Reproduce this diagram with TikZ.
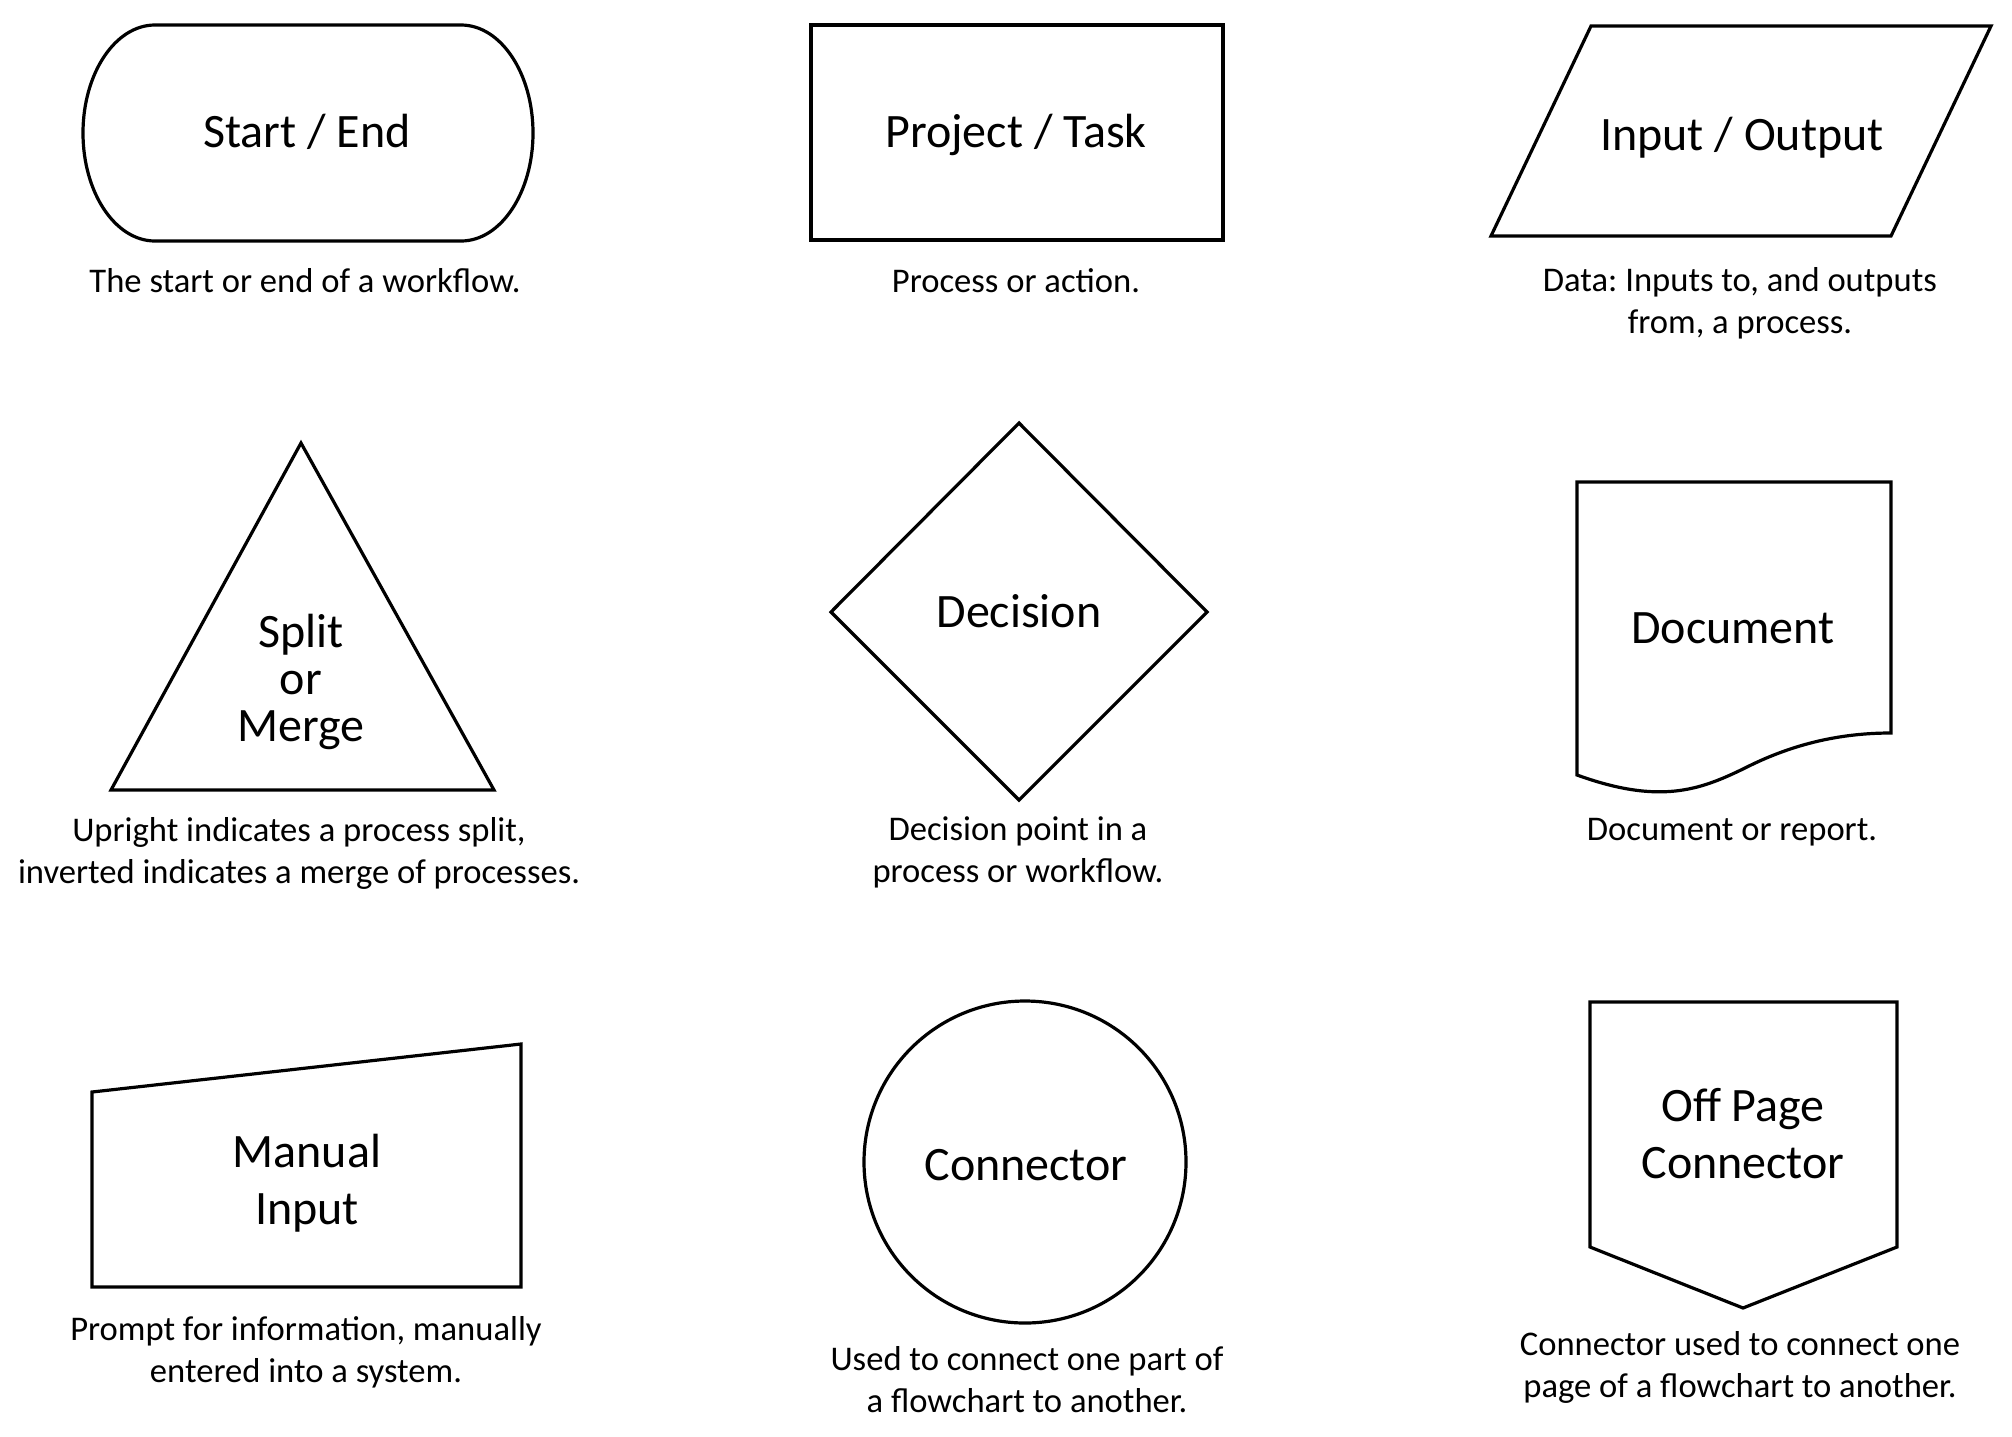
\documentclass[tikz,border=0pt]{standalone}
\usepackage{fontspec}
\setmainfont{Carlito}
\frenchspacing
\begin{document}
\begin{tikzpicture}[x=0.5pt,y=-0.5pt,
  shp/.style={draw=black, line width=1.6pt, line join=miter},
  lbl/.style={font=\fontsize{24}{28.5}\selectfont, align=center, anchor=base, inner sep=0pt},
  captxt/.style={font=\fontsize{17.3}{20.75}\selectfont, align=center, anchor=base, inner sep=0pt}]
\useasboundingbox (0,0) rectangle (2012,1436);
% shapes
\draw[shp] (155,25) -- (461,25) .. controls (500.8,25) and (533,73.4) .. (533,133)
  .. controls (533,192.6) and (500.8,241) .. (461,241) -- (155,241)
  .. controls (115.2,241) and (83,192.6) .. (83,133)
  .. controls (83,73.4) and (115.2,25) .. (155,25) -- cycle;
\draw[shp] (811,25) rectangle (1223,240);
\draw[shp] (1591,26) -- (1991,26) -- (1891,236) -- (1491,236) -- cycle;
\draw[shp] (301,443) -- (494,790) -- (111,790) -- cycle;
\draw[shp] (1019,423) -- (1207,612) -- (1019,800) -- (831,612) -- cycle;
\draw[shp] (1577,482) -- (1891,482) -- (1891,733)
  .. controls (1850,733) and (1800,740) .. (1745,768)
  .. controls (1700,790) and (1660,805) .. (1577,775) -- cycle;
\draw[shp] (92,1092) -- (521,1044) -- (521,1287) -- (92,1287) -- cycle;
\draw[shp] (1025,1162) circle[radius=161];
\draw[shp] (1590,1002) -- (1897,1002) -- (1897,1247) -- (1743,1308) -- (1590,1247) -- cycle;
% labels (anchor base = baseline of the last line)
\node[lbl] (tStart) at (307,147) {Start / End};
\node[lbl] (tTask) at (1016,147) {Project / Task};
\node[lbl] (tIO) at (1742,150) {Input / Output};
\node[lbl, font=\fontsize{24}{23.5}\selectfont] (tSplit) at (301,741) {Split\\or\\Merge};
\node[lbl] (tDec) at (1019,627) {Decision};
\node[lbl] (tDoc) at (1733,643) {Document};
\node[lbl] (tMan) at (307,1224) {Manual\\Input};
\node[lbl] (tCon) at (1026,1180) {Connector};
\node[lbl] (tOff) at (1743,1178) {Off Page\\Connector};
% captions
\node[captxt] (cStart) at (305,292) {The start or end of a workflow.};
\node[captxt] (cTask) at (1016,292) {Process or action.};
\node[captxt] (cIO) at (1740,333) {Data: Inputs to, and outputs\\from, a process.};
\node[captxt] (cSplit) at (299,883) {Upright indicates a process split,\\inverted indicates a merge of processes.};
\node[captxt] (cDec) at (1018,882) {Decision point in a\\process or workflow.};
\node[captxt] (cDoc) at (1732,840) {Document or report.};
\node[captxt] (cMan) at (306,1382) {Prompt for information, manually\\entered into a system.};
\node[captxt] (cCon) at (1027,1412) {Used to connect one part of\\a flowchart to another.};
\node[captxt] (cOff) at (1740,1397) {Connector used to connect one\\page of a flowchart to another.};
\end{tikzpicture}
\end{document}
